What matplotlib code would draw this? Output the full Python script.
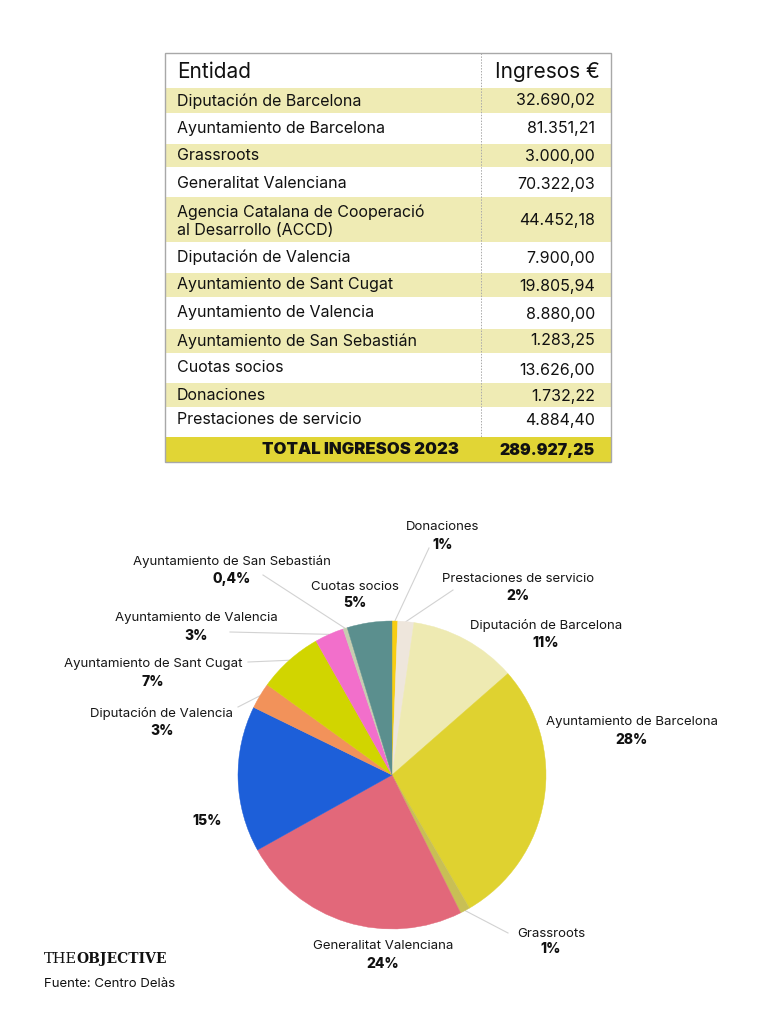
import matplotlib
matplotlib.use("Agg")
import matplotlib.pyplot as plt
import numpy as np
from matplotlib.patches import Rectangle

# ---------------- data ----------------
entities = ["Diputación de Barcelona", "Ayuntamiento de Barcelona", "Grassroots",
            "Generalitat Valenciana",
            "Agencia Catalana de Cooperació\nal Desarrollo (ACCD)",
            "Diputación de Valencia", "Ayuntamiento de Sant Cugat",
            "Ayuntamiento de Valencia", "Ayuntamiento de San Sebastián",
            "Cuotas socios", "Donaciones", "Prestaciones de servicio"]
ingresos = [32690.02, 81351.21, 3000.00, 70322.03, 44452.18, 7900.00,
            19805.94, 8880.00, 1283.25, 13626.00, 1732.22, 4884.40]
total_label = "TOTAL INGRESOS 2023"
total_value = 289927.25
header = ["Entidad", "Ingresos €"]

# pie (clockwise from 12 o'clock)
pie_names = ["Donaciones", "Prestaciones de servicio", "Diputación de Barcelona",
             "Ayuntamiento de Barcelona", "Grassroots", "Generalitat Valenciana",
             "", "Diputación de Valencia", "Ayuntamiento de Sant Cugat",
             "Ayuntamiento de Valencia", "Ayuntamiento de San Sebastián",
             "Cuotas socios"]
pie_values = [1732.22, 4884.40, 32690.02, 81351.21, 3000.00, 70322.03,
              44452.18, 7900.00, 19805.94, 8880.00, 1283.25, 13626.00]
pie_pcts = ["1%", "2%", "11%", "28%", "1%", "24%", "15%", "3%", "7%", "3%",
            "0,4%", "5%"]
pie_colors = ["#f7cd12", "#eee6dc", "#eeeab2", "#dfd230", "#c8bf55", "#e2687a",
              "#1d5fd9", "#f2925a", "#d1d500", "#f26fcb", "#c6cdb0", "#5b8f8e"]

source = "Fuente: Centro Delàs"

# ---------------- layout ----------------
W, H = 776, 1024
FONT = ["Inter", "DejaVu Sans"]
plt.rcParams["font.family"] = FONT

fig = plt.figure(figsize=(W / 100, H / 100), dpi=100)
fig.patch.set_facecolor("white")
bg = fig.add_axes([0, 0, 1, 1])
bg.set_xlim(0, W)
bg.set_ylim(H, 0)
bg.axis("off")


def fmt(v):
    s = f"{v:,.2f}"
    return s.replace(",", "X").replace(".", ",").replace("X", ".")


# table geometry (px)
TL, TR = 165, 611
TTOP, TBOT = 53, 462
DIV = 481
rows = [(88, 113), (113, 144), (144, 167), (167, 197), (197, 242), (242, 273),
        (273, 297), (297, 329), (329, 353), (353, 383), (383, 407), (407, 437)]
name_y = [101, 129, 156, 183, 221, 257, 285, 313, 341, 367, 395, 420]
val_y = [101, 129, 156, 184, 221, 258, 286, 314, 341, 371, 396, 421]
band = "#efebb4"
for i, (t, b) in enumerate(rows):
    if i % 2 == 0:
        bg.add_patch(Rectangle((TL, t), TR - TL, b - t, facecolor=band,
                               edgecolor="none", zorder=1))
bg.add_patch(Rectangle((TL, 437), TR - TL, TBOT - 437, facecolor="#e1d535",
                       edgecolor="none", zorder=1))
bg.add_patch(Rectangle((TL, TTOP), TR - TL, TBOT - TTOP, facecolor="none",
                       edgecolor="#a8a8a8", lw=1.0, zorder=3))
bg.plot([DIV, DIV], [TTOP, 437], color="#aaaaaa", lw=0.7, ls=(0, (1.5, 1.5)),
        zorder=2)

bg.text(177, 72, header[0], fontsize=15, ha="left", va="center", color="#111")
bg.text(600, 72, header[1], fontsize=15, ha="right", va="center", color="#111")
for i, (n, v) in enumerate(zip(entities, ingresos)):
    bg.text(177, name_y[i], n, fontsize=11.5, ha="left", va="center",
            color="#111", linespacing=1.25, zorder=4)
    bg.text(595, val_y[i], fmt(v), fontsize=11.5, ha="right", va="center",
            color="#111", zorder=4)
bg.text(459, 450, total_label, fontsize=12, fontweight="black", ha="right",
        va="center", color="#111", zorder=4)
bg.text(595, 450, fmt(total_value), fontsize=11.5, fontweight="black",
        ha="right", va="center", color="#111", zorder=4)

# ---------------- pie ----------------
CX, CY, R = 392, 775, 154
pax = fig.add_axes([(CX - R) / W, (H - CY - R) / H, 2 * R / W, 2 * R / H])
wedges, _ = pax.pie(pie_values, colors=pie_colors, startangle=90,
                    counterclock=False, radius=1)
for w, c in zip(wedges, pie_colors):
    w.set_edgecolor(c)
    w.set_linewidth(0.3)
pax.set_xlim(-1, 1)
pax.set_ylim(-1, 1)
pax.set_aspect("equal")
pax.axis("off")

# label positions (px): (x, y_name, y_pct)
lab_pos = [(443, 527, 545), (518, 579, 596), (546, 625, 643), (632, 722, 740),
           (551, 934, 949), (383, 946, 964), (207, 821, 821), (162, 714, 731),
           (153, 664, 682), (196, 618, 636), (232, 561, 579), (355, 587, 603)]
# leader line endpoints near the label (px), None = no line
lead_end = [(429, 548), (453, 590), None, None, (508, 933), None, None,
            (238, 707), (248, 662), (230, 632), (263, 575), None]

for i, w in enumerate(wedges):
    x, yn, yp = lab_pos[i]
    if pie_names[i]:
        bg.text(x, yn, pie_names[i], fontsize=9.5, ha="center", va="center",
                color="#161616", zorder=5)
    bg.text(x, yp, pie_pcts[i], fontsize=10, fontweight="heavy",
            ha="center", va="center", color="#111", zorder=5)
    if lead_end[i] is not None:
        ang = np.deg2rad((w.theta1 + w.theta2) / 2)
        ex = CX + R * 1.0 * np.cos(ang)
        ey = CY - R * 1.0 * np.sin(ang)
        lx, ly = lead_end[i]
        bg.plot([lx, ex], [ly, ey], color="#d2d2d2", lw=0.8, zorder=0)

# ---------------- footer ----------------
bg.text(44, 959, "THE", fontsize=10.5, family="DejaVu Serif", ha="left",
        va="center", color="#111")
bg.text(76, 959, "OBJECTIVE", fontsize=10, family="DejaVu Serif",
        fontweight="bold", ha="left", va="center", color="#111")
bg.text(44, 984, source, fontsize=9.5, ha="left", va="center", color="#111")

fig.savefig("out.png", dpi=100, facecolor="white")
